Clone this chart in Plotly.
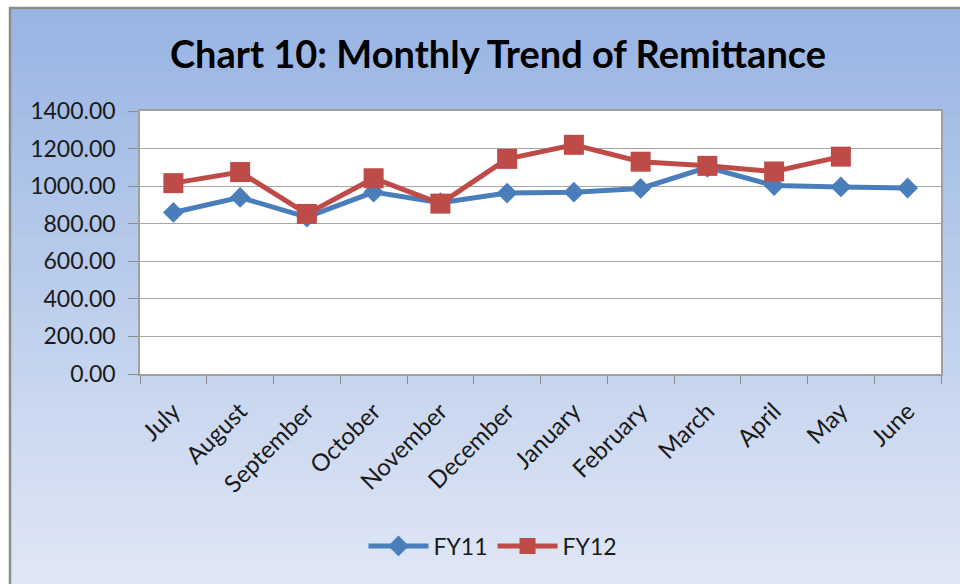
import plotly.graph_objects as go

months = ["July", "August", "September", "October", "November", "December",
          "January", "February", "March", "April", "May", "June"]
fy11 = [860, 940, 835, 968, 912, 963, 968, 988, 1100, 1003, 996, 990]
fy12 = [1016, 1075, 852, 1042, 907, 1145, 1220, 1130, 1108, 1078, 1157, None]
y_ticks = [0, 200, 400, 600, 800, 1000, 1200, 1400]
y_tick_text = [f"{v:.2f}" for v in y_ticks]

W, H = 960, 584
L, R, T, B = 140, 941, 111, 374  # plot area in pixels


def px_x(p):
    return (p - L) / (R - L)


def px_y(p):
    return (B - p) / (B - T)


FONT = "Lato"
fig = go.Figure()
fig.add_trace(go.Scatter(
    x=months, y=fy11, name="FY11", mode="lines+markers",
    line=dict(color="#4A7EBB", width=5),
    marker=dict(symbol="diamond", size=16, color="#4A7EBB"),
))
fig.add_trace(go.Scatter(
    x=months, y=fy12, name="FY12", mode="lines+markers",
    line=dict(color="#BE4B48", width=5),
    marker=dict(symbol="square", size=20, color="#BE4B48"),
))

# background gradient strips
shapes = []
top_c = (152, 180, 227)
bot_c = (224, 231, 245)
n = 90
y0, y1 = 8, H + 2
for i in range(n):
    a = y0 + (y1 - y0) * i / n
    b = y0 + (y1 - y0) * (i + 1) / n + 0.6
    t = i / (n - 1)
    c = tuple(round(top_c[k] + (bot_c[k] - top_c[k]) * t) for k in range(3))
    shapes.append(dict(type="rect", xref="paper", yref="paper", layer="below",
                       x0=px_x(10), x1=px_x(W + 5), y0=px_y(b), y1=px_y(a),
                       line=dict(width=0), fillcolor=f"rgb{c}"))
# chart border (top & left)
shapes.append(dict(type="line", xref="paper", yref="paper", layer="below",
                   x0=px_x(9), x1=px_x(W + 5), y0=px_y(8), y1=px_y(8),
                   line=dict(color="#8C8C8C", width=2.5)))
shapes.append(dict(type="line", xref="paper", yref="paper", layer="below",
                   x0=px_x(10), x1=px_x(10), y0=px_y(7), y1=px_y(H + 5),
                   line=dict(color="#8C8C8C", width=2.5)))
# plot area white
shapes.append(dict(type="rect", xref="paper", yref="paper", layer="below",
                   x0=0, x1=1, y0=0, y1=1, line=dict(width=0), fillcolor="white"))

fig.update_layout(
    width=W, height=H,
    margin=dict(l=L, r=W - R, t=T, b=H - B, pad=0),
    paper_bgcolor="white", plot_bgcolor="white",
    shapes=shapes,
    font=dict(family=FONT, size=23, color="#1a1a1a"),
    title=dict(text="<b>Chart 10: Monthly Trend of Remittance</b>",
               x=498 / W, xanchor="center", y=1 - 55 / H, yanchor="middle",
               font=dict(family=FONT, size=38, color="black")),
    showlegend=True,
    legend=dict(orientation="h", x=px_x(493), xanchor="center",
                y=px_y(546), yanchor="middle", bgcolor="rgba(0,0,0,0)",
                font=dict(size=23), itemwidth=60),
    xaxis=dict(type="category", range=[-0.5, 11.5], tickson="boundaries",
               ticks="outside", ticklen=8, tickcolor="#8C8C8C", tickangle=-45,
               ticklabelstandoff=12,
               showline=True, linecolor="#A0A0A0", linewidth=1.5, mirror=True,
               showgrid=False, tickfont=dict(size=24)),
    yaxis=dict(range=[0, 1400], tickvals=y_ticks, ticktext=y_tick_text,
               ticks="outside", ticklen=10, tickcolor="#8C8C8C",
               ticklabelstandoff=8,
               showline=True, linecolor="#A0A0A0", linewidth=1.5, mirror=True,
               showgrid=True, gridcolor="#A6A6A6", gridwidth=1.3,
               zeroline=False, tickfont=dict(size=23)),
)

fig.write_html(
    "out.html",
    config={"displayModeBar": False},
    post_script="document.body.style.margin='0';"
                "document.body.style.overflow='hidden';",
)
